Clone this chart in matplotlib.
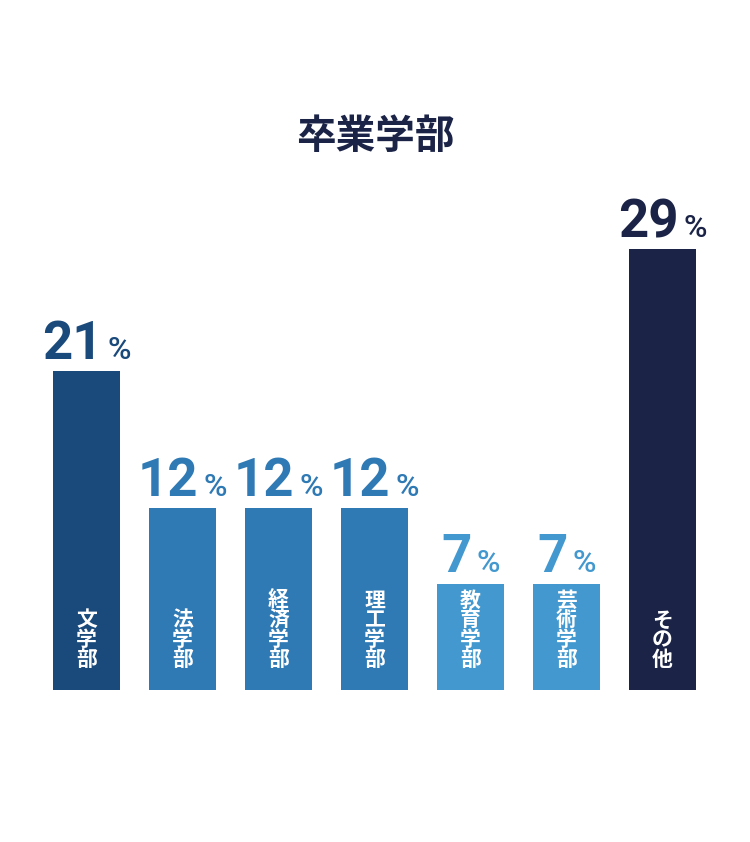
import matplotlib
matplotlib.use("Agg")
import matplotlib.pyplot as plt

plt.rcParams['font.family'] = ['Noto Sans CJK JP', 'DejaVu Sans']

# Data
categories = ["文学部", "法学部", "経済学部", "理工学部", "教育学部", "芸術学部", "その他"]
values = [21, 12, 12, 12, 7, 7, 29]
colors = ["#1a4a7b", "#2f7ab5", "#2f7ab5", "#2f7ab5", "#4399cf", "#4399cf", "#1b2447"]
title = "卒業学部"

W, H = 750, 842
fig = plt.figure(figsize=(W / 100, H / 100), dpi=100)
fig.patch.set_facecolor("white")

ax_left, ax_right = 38.5, 710.5
ax_bottom = H - 690
ax_height = 608  # 40 % units
ax = fig.add_axes([ax_left / W, ax_bottom / H, (ax_right - ax_left) / W, ax_height / H])
ax.set_xlim(-0.5, len(categories) - 0.5)
ax.set_ylim(0, 40)
ax.axis("off")

x = list(range(len(categories)))
ax.bar(x, values, width=0.7, color=colors, linewidth=0)

fig.text(0.5, 1 - 136 / H, title, ha="center", va="center", fontsize=28.5,
         fontweight="bold", color="#1b2447", family=["Noto Sans CJK JP", "DejaVu Sans"])

for i, cat in enumerate(categories):
    n = len(cat)
    for j, ch in enumerate(cat):
        k = n - 1 - j
        ax.annotate(ch, xy=(i, 0), xytext=(0, 30 + 20 * k), textcoords="offset pixels",
                    ha="center", va="center", fontsize=15, fontweight="bold",
                    color="white", family=["Noto Sans CJK JP", "DejaVu Sans"])

num_texts = []
for i, v in enumerate(values):
    tn = ax.annotate(str(v), xy=(i, v), xytext=(0, 12), textcoords="offset pixels",
                     ha="left", va="baseline", fontsize=38, fontweight="bold",
                     color=colors[i], family=["Roboto", "DejaVu Sans"])
    tp = ax.annotate("%", xy=(i, v), xytext=(0, 12), textcoords="offset pixels",
                     ha="left", va="baseline", fontsize=23, fontweight="medium",
                     color=colors[i], family=["Roboto", "DejaVu Sans"])
    num_texts.append((tn, tp))

fig.canvas.draw()
r = fig.canvas.get_renderer()
gap = 5
for tn, tp in num_texts:
    wn = tn.get_window_extent(r).width
    wp = tp.get_window_extent(r).width
    total = wn + gap + wp
    tn.xyann = (-total / 2, 12)
    tp.xyann = (-total / 2 + wn + gap, 12)

fig.savefig("out.png", dpi=100, facecolor="white")
